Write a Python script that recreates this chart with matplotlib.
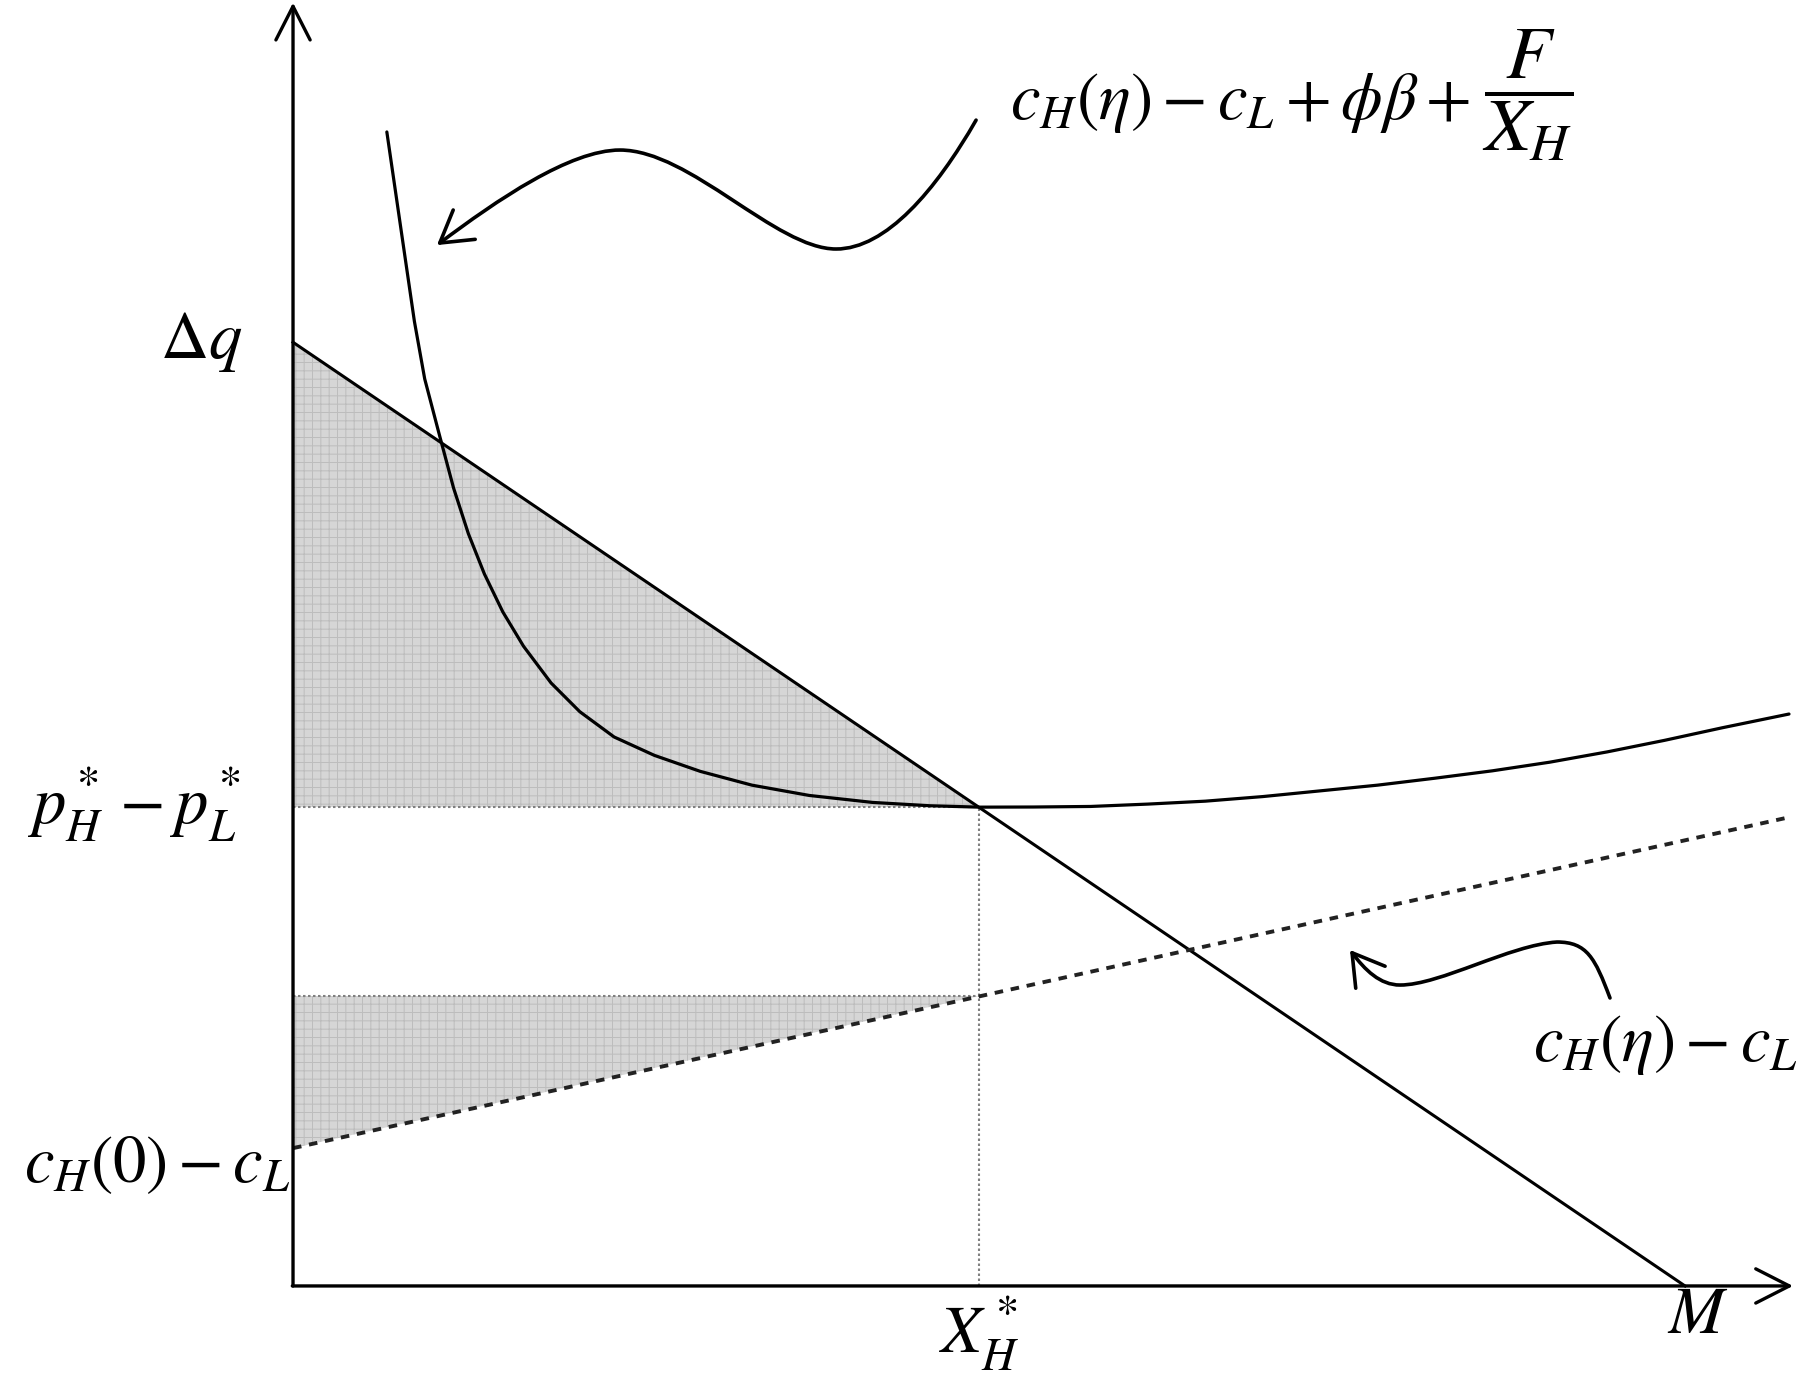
import matplotlib
matplotlib.use("Agg")
import matplotlib.pyplot as plt
import numpy as np
from matplotlib.path import Path
from matplotlib.patches import FancyArrowPatch

# model values (x in units where M = 10)
m_value = 10.0
x_star = 4.93
delta_q = 6.78
p_gap = 3.44

# demand line: from delta q on the y axis down to M
demand_x = [0.0, m_value]
demand_y = [delta_q, 0.0]

# dashed cost line c_H(eta) - c_L
cost_x = [0.0, 10.76]
cost_y = [0.99, 3.37]

# solid curve c_H(eta) - c_L + phi*beta + F/X_H
curve_x = [0.674, 0.740, 0.806, 0.872, 0.946, 1.054, 1.153, 1.260, 1.375, 1.507,
           1.656, 1.854, 2.060, 2.307, 2.596, 2.926, 3.297, 3.709, 4.163, 4.575,
           4.930, 5.320, 5.730, 6.142, 6.554, 6.967, 7.379, 7.791, 8.204, 8.616,
           9.028, 9.441, 9.853, 10.266, 10.747]
curve_y = [8.291, 7.837, 7.383, 6.930, 6.517, 6.105, 5.734, 5.404, 5.115, 4.843,
           4.596, 4.332, 4.126, 3.944, 3.812, 3.697, 3.598, 3.524, 3.474, 3.450,
           3.440, 3.441, 3.445, 3.462, 3.483, 3.516, 3.557, 3.598, 3.648, 3.701,
           3.763, 3.837, 3.920, 4.010, 4.109]

# wavy pointer arrows (cubic bezier control points)
top_arrow = [(4.907, 8.376), (4.619, 7.874), (4.26, 7.45), (3.901, 7.45),
             (3.47, 7.45), (2.852, 8.161), (2.349, 8.161),
             (1.99, 8.161), (1.466, 7.802), (1.034, 7.478)]
low_arrow = [(9.461, 2.069), (9.353, 2.356), (9.296, 2.471), (9.08, 2.471),
             (8.743, 2.45), (8.24, 2.162), (7.953, 2.162),
             (7.809, 2.162), (7.701, 2.27), (7.593, 2.414)]

plt.rcParams["mathtext.fontset"] = "stix"
plt.rcParams["font.family"] = ["Liberation Serif", "DejaVu Serif"]
plt.rcParams["hatch.linewidth"] = 0.35

fig = plt.figure(figsize=(9, 6.99), dpi=200)
ax = fig.add_axes([0, 0, 1, 1])
ax.set_xlim(-2.105, 10.826)
ax.set_ylim(-0.805, 9.239)
ax.axis("off")

shade = "#d6d6d6"
hatch_col = "#bdbdbd"

# shaded areas
cost_at_star = np.interp(x_star, cost_x, cost_y)
ax.fill([0, 0, x_star], [delta_q, p_gap, p_gap], facecolor=shade,
        edgecolor=hatch_col, linewidth=0, hatch="++++", zorder=1)
ax.fill([0, 0, x_star], [cost_y[0], cost_at_star, cost_at_star], facecolor=shade,
        edgecolor=hatch_col, linewidth=0, hatch="++++", zorder=1)

# guide lines
guide = dict(color="#808080", lw=0.75, ls=(0, (1.2, 1.2)), zorder=2)
ax.plot([0, x_star], [p_gap, p_gap], **guide)
ax.plot([0, x_star], [cost_at_star, cost_at_star], **guide)
ax.plot([x_star, x_star], [0, p_gap], **guide)

# curves
ax.plot(demand_x, demand_y, color="black", lw=1.1, zorder=3)
ax.plot(cost_x, cost_y, color="#222222", lw=1.4, ls=(0, (2.2, 2.0)), zorder=3)
ax.plot(curve_x, curve_y, color="black", lw=1.15, zorder=3,
        solid_joinstyle="round", solid_capstyle="round")

# axes with open arrow heads
arrow_kw = dict(arrowstyle="->,head_length=0.55,head_width=0.28", lw=1.2,
                color="black", mutation_scale=22, shrinkA=0, shrinkB=0)
ax.annotate("", xy=(0, 9.22), xytext=(0, 0), arrowprops=arrow_kw, zorder=4)
ax.annotate("", xy=(10.776, 0), xytext=(-0.005, 0), arrowprops=arrow_kw, zorder=4)


def bezier_arrow(points):
    codes = [Path.MOVETO] + [Path.CURVE4] * (len(points) - 1)
    patch = FancyArrowPatch(path=Path(points, codes),
                            arrowstyle="->,head_length=0.5,head_width=0.3",
                            mutation_scale=22, lw=1.3, color="black", zorder=4)
    ax.add_patch(patch)


bezier_arrow(top_arrow)
bezier_arrow(low_arrow)

fs = 24
ax.text(-0.66, delta_q, r"$\Delta q$", fontsize=fs, ha="center", va="center")
ax.text(-0.37, p_gap + 0.02, r"$p_H^* - p_L^*$", fontsize=fs, ha="right", va="center")
ax.text(-0.02, 0.87, r"$c_H(0) - c_L$", fontsize=fs, ha="right", va="center")
ax.text(x_star, -0.34, r"$X_H^*$", fontsize=fs, ha="center", va="center")
ax.text(10.09, -0.22, r"$M$", fontsize=fs, ha="center", va="center")
ax.text(8.91, 1.73, r"$c_H(\eta) - c_L$", fontsize=fs, ha="left", va="center")
ax.text(5.15, 8.50, r"$c_H(\eta) - c_L + \phi\beta +$", fontsize=fs,
        ha="left", va="center")
ax.text(8.87, 8.56, r"$\dfrac{F}{X_H}$", fontsize=27, ha="center", va="center")

fig.savefig("out.png", dpi=200)
